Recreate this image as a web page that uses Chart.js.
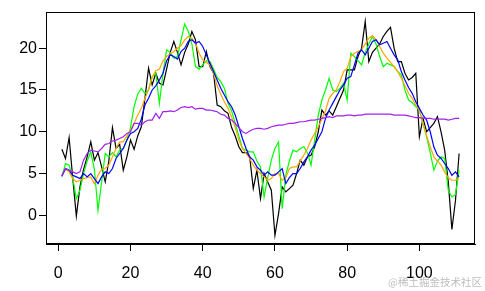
<!DOCTYPE html>
<html>
<head>
<meta charset="utf-8">
<script src="https://cdn.jsdelivr.net/npm/chart.js@4.4.1/dist/chart.umd.min.js"></script>
<style>
html,body{margin:0;padding:0;background:#fff;}
#c{display:block;}
</style>
</head>
<body>
<canvas id="c" width="485" height="291"></canvas>
<script>
const xIndex = [1,2,3,4,5,6,7,8,9,10,11,12,13,14,15,16,17,18,19,20,21,22,23,24,25,26,27,28,29,30,31,32,33,34,35,36,37,38,39,40,41,42,43,44,45,46,47,48,49,50,51,52,53,54,55,56,57,58,59,60,61,62,63,64,65,66,67,68,69,70,71,72,73,74,75,76,77,78,79,80,81,82,83,84,85,86,87,88,89,90,91,92,93,94,95,96,97,98,99,100,101,102,103,104,105,106,107,108,109,110,111];

const observed = [7.9,6.8,9.3,4.5,-0.1,3.4,5.5,7.0,8.8,6.6,7.5,5.8,4.0,6.5,10.5,8.0,8.5,5.4,7.0,9.0,7.9,9.5,10.6,14.0,17.6,15.6,17.0,15.8,15.6,17.5,19.5,20.8,19.5,18.0,19.5,20.5,22.0,21.0,17.8,17.8,19.6,17.8,17.0,13.2,13.0,12.5,12.2,10.5,9.5,8.2,7.5,7.5,7.0,3.2,5.4,2.0,5.0,4.0,3.0,-2.4,0.2,3.4,2.8,3.2,3.6,5.0,6.6,6.0,7.0,7.2,8.2,10.0,12.6,12.0,12.5,12.0,13.0,14.0,15.0,17.4,17.4,17.4,19.0,20.0,23.2,18.4,19.5,20.0,20.5,21.4,22.0,22.5,20.0,18.4,18.4,17.0,16.2,16.5,17.0,9.4,11.6,10.0,10.5,11.0,11.8,10.0,7.8,4.0,-1.7,1.8,7.4];

const greenSeries = [4.6,6.2,6.0,4.5,2.0,3.0,5.0,6.5,7.6,5.5,0.6,4.0,7.4,7.0,7.5,7.0,7.8,8.0,9.0,10.5,13.0,14.5,15.2,14.6,15.0,16.6,17.0,13.4,17.0,19.8,19.5,18.8,19.0,21.0,22.9,22.0,20.5,17.8,17.5,18.0,18.5,18.4,17.5,16.5,16.0,15.2,13.4,12.5,11.0,9.5,8.0,7.8,7.6,7.6,6.5,5.8,2.2,4.5,6.6,8.0,8.8,0.8,4.8,6.5,7.8,7.6,8.0,8.2,7.5,6.0,9.0,12.0,13.8,15.0,16.4,15.0,14.8,15.2,15.8,13.8,19.4,19.0,18.5,18.0,19.5,20.5,21.4,20.5,19.0,17.8,18.2,18.0,17.8,17.2,16.8,15.0,13.8,13.5,13.0,12.6,11.0,9.4,7.5,5.4,6.5,7.0,6.8,3.0,2.2,2.5,5.4];

const orangeSeries = [4.8,5.5,5.2,4.4,4.0,4.2,4.4,4.5,4.6,3.8,4.8,5.5,5.6,6.0,7.0,8.0,8.8,8.8,9.5,10.2,11.0,12.0,12.8,14.0,15.0,16.5,17.3,17.5,18.5,19.0,19.3,19.6,20.0,20.3,21.0,21.4,21.2,20.6,19.4,18.6,18.3,18.0,17.0,15.5,14.5,13.6,12.8,11.8,10.5,9.0,8.0,7.4,6.8,6.0,5.4,5.0,4.6,4.2,4.4,5.0,5.0,4.2,4.5,5.6,5.8,5.8,6.5,7.2,8.0,9.0,9.8,10.6,11.5,12.5,14.0,14.6,15.0,16.0,17.2,17.6,19.0,19.4,19.6,19.8,20.5,21.2,21.5,21.0,20.2,19.4,18.8,18.3,17.8,17.2,16.4,15.5,14.6,14.0,13.2,12.6,11.0,9.5,8.2,7.0,6.5,6.0,5.2,4.5,4.2,4.2,4.4];

const blueSeries = [4.7,5.6,5.4,4.8,4.6,4.4,5.0,4.6,5.0,4.4,3.8,4.6,5.2,5.0,5.6,6.8,7.4,8.0,9.0,9.8,10.0,10.4,11.5,13.2,14.0,15.0,15.5,16.2,17.0,18.5,19.2,19.0,18.7,19.6,20.0,20.8,21.0,20.6,20.8,20.2,19.2,18.2,17.2,16.2,15.2,14.4,13.6,13.0,12.0,10.6,9.2,8.0,7.0,6.6,5.8,5.4,4.8,5.2,4.8,4.8,5.2,5.6,3.8,4.5,5.0,5.0,5.6,6.4,7.0,7.8,8.4,9.2,10.0,11.6,12.6,13.4,14.2,15.0,15.6,16.4,16.6,18.0,19.4,19.8,19.2,20.0,20.8,21.0,20.4,20.6,20.8,20.0,19.2,18.6,17.2,16.2,15.3,14.6,13.6,12.8,12.0,11.4,10.0,8.2,7.2,6.8,6.2,5.6,4.8,5.2,4.6];

const purpleSeries = [4.7,5.6,5.4,5.2,5.0,5.2,6.6,7.4,7.8,7.7,7.6,8.0,8.5,8.6,8.9,9.0,9.2,9.4,9.8,10.0,11.0,11.0,10.8,11.2,11.4,11.4,12.2,11.6,12.4,12.4,12.5,12.4,12.6,12.9,13.0,12.9,13.0,12.7,12.8,12.8,12.6,12.6,12.5,12.4,12.1,12.0,11.6,11.4,11.0,10.5,10.0,9.8,10.1,10.3,10.4,10.4,10.3,10.4,10.6,10.7,10.8,10.8,10.9,11.0,11.0,11.1,11.2,11.2,11.3,11.4,11.4,11.5,11.6,11.7,11.8,11.7,11.9,11.9,11.9,12.0,12.0,11.9,12.0,12.0,12.1,12.1,12.1,12.1,12.1,12.1,12.1,12.1,12.0,12.0,12.0,12.0,11.9,11.8,11.7,11.7,11.6,11.6,11.6,11.5,11.5,11.5,11.5,11.4,11.5,11.6,11.6];

const xTickValues = [0,20,40,60,80,100];
const yTickValues = [0,5,10,15,20];

function pts(arr){ return arr.map((v,i)=>({x:xIndex[i], y:v})); }

const FONT = "'Liberation Sans', Arial, sans-serif";

const framePlugin = {
  id:'frame',
  afterDraw(chart){
    const {ctx, chartArea:a} = chart;
    ctx.save();
    ctx.strokeStyle = '#000';
    ctx.lineWidth = 1;
    ctx.strokeRect(Math.round(a.left)+0.5, Math.round(a.top)+0.5, Math.round(a.right-a.left)-1, Math.round(a.bottom-a.top)-1);
    ctx.font = "10.5px 'Noto Sans CJK SC', sans-serif";
    ctx.fillStyle = '#bdbdbd';
    ctx.textAlign = 'right';
    ctx.textBaseline = 'middle';
    ctx.fillText('@稀土掘金技术社区', 482, 282);
    ctx.restore();
  }
};

const ds = (data, color, order) => ({
  data: pts(data), borderColor: color, backgroundColor: color,
  borderWidth: 1.2, pointRadius: 0, tension: 0, fill: false, order: order
});

new Chart(document.getElementById('c'), {
  type: 'line',
  data: {
    datasets: [
      ds(observed, '#000000', 5),
      ds(greenSeries, '#00ff00', 4),
      ds(orangeSeries, '#ffa500', 3),
      ds(blueSeries, '#0000ff', 2),
      ds(purpleSeries, '#a020f0', 1)
    ]
  },
  options: {
    responsive: false,
    animation: false,
    devicePixelRatio: 1,
    layout: { padding: { left: 0, right: 10, top: 12, bottom: 0 } },
    plugins: { legend: { display: false }, tooltip: { enabled: false } },
    scales: {
      x: {
        type: 'linear', min: -3.4, max: 115.4,
        afterFit(s){ s.height = 47; },
        afterBuildTicks(s){ s.ticks = xTickValues.map(v=>({value:v})); },
        ticks: { color:'#000', font:{ size:16, family: FONT }, padding: 13, maxRotation:0, autoSkip:false },
        grid: { drawOnChartArea:false, tickLength:7, color:'#000', tickColor:'#000', lineWidth:1 },
        border: { color:'#000', width:1 }
      },
      y: {
        type: 'linear', min: -3.43, max: 24.33,
        afterFit(s){ s.width = 46; },
        afterBuildTicks(s){ s.ticks = yTickValues.map(v=>({value:v})); },
        ticks: { color:'#000', font:{ size:16, family: FONT }, padding: 2, autoSkip:false },
        grid: { drawOnChartArea:false, tickLength:7, color:'#000', tickColor:'#000', lineWidth:1 },
        border: { color:'#000', width:1 }
      }
    }
  },
  plugins: [framePlugin]
});
</script>
</body>
</html>
